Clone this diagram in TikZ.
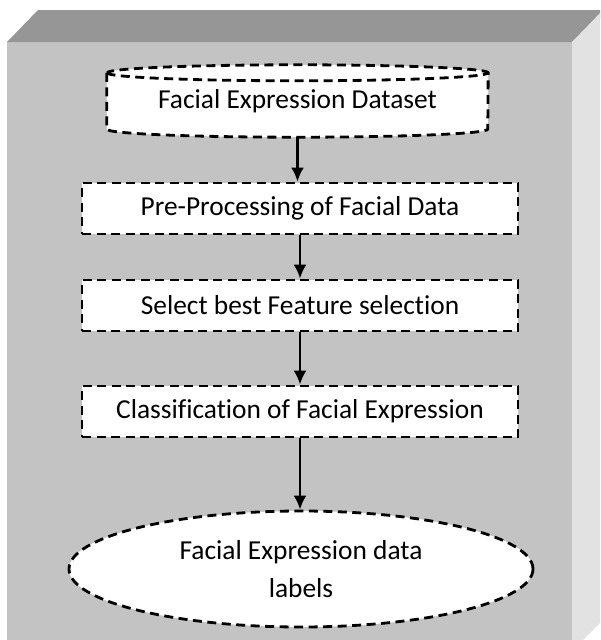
\documentclass[tikz,border=0pt]{standalone}
\usepackage{fontspec}
\setmainfont[Ligatures=NoCommon]{Carlito}
\usetikzlibrary{shapes.geometric,arrows.meta,backgrounds}
\definecolor{frontgray}{RGB}{195,195,195}
\definecolor{topgray}{RGB}{150,150,150}
\definecolor{sidegray}{RGB}{226,226,226}
\begin{document}
\begin{tikzpicture}[x=1pt,y=-1pt]
\tikzset{ >={Latex[length=14pt,width=13pt]}, 
  dashline/.style={draw, dash pattern=on 9pt off 5.5pt, line width=2.8pt},
  stagebox/.style={dashline, fill=white, rectangle, inner sep=0pt, minimum width=436pt, minimum height=51pt},
  flow/.style={->, line width=2.5pt},
  every node/.style={font=\fontsize{27.4}{38}\selectfont} }

\useasboundingbox (0,0) rectangle (600,640);

%%% Blocks

% dataset (cylinder)
\node [inner sep=0pt, minimum width=381pt, minimum height=72pt] (data) at (297.5,101) {Facial Expression Dataset};

% pre-processing
\node [stagebox] (pre) at (300,208.5) {Pre-Processing of Facial Data};

% feature selection
\node [stagebox] (feat) at (300,305.5) {Select best Feature selection};

% classification
\node [stagebox] (class) at (300,411.5) {Classification of Facial Expression};

% output labels
\node [ellipse, dashline, fill=white, inner sep=0pt, minimum width=464pt, minimum height=116pt, align=center, text depth=-3pt] (labels) at (301,569) {Facial Expression data\\labels};

%%% Box and cylinder behind

\begin{scope}[on background layer]
\clip (0,0) rectangle (600,640);
\fill [frontgray] (7,42) rectangle (572,660);
\fill [topgray] (7,42) -- (38,10) -- (610,10) -- (572,42) -- cycle;
\fill [sidegray] (572,42) -- (603,10) -- (603,620) -- (572,651) -- cycle;
\path [dashline, fill=white] ([yshift=-8pt]data.north west) -- ([yshift=8pt]data.south west)
  arc [start angle=180, end angle=360, x radius=190.5pt, y radius=8pt]
  -- ([yshift=-8pt]data.north east)
  arc [start angle=0, end angle=180, x radius=190.5pt, y radius=8pt] -- cycle;
\draw [dashline] ([yshift=-8pt]data.north west)
  arc [start angle=180, end angle=360, x radius=190.5pt, y radius=8pt];
\end{scope}

%%% Lines

\draw [flow] (data.south) -- (data.south |- pre.north);
\draw [flow] (pre) -- (feat);
\draw [flow] (feat) -- (class);
\draw [flow] (class.south) -- (class.south |- labels.north);

\end{tikzpicture}
\end{document}
